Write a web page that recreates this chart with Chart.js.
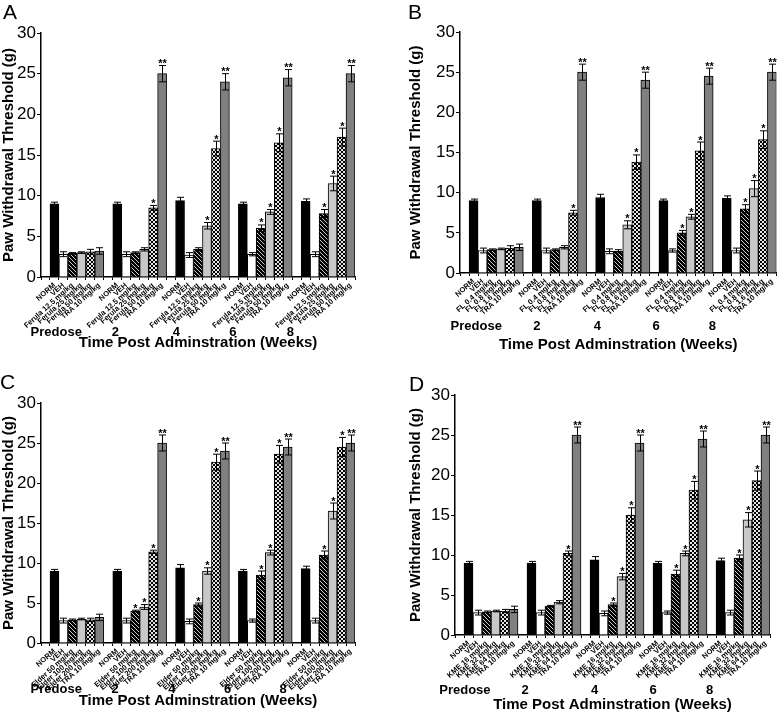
<!DOCTYPE html>
<html><head><meta charset="utf-8">
<script src="https://cdn.jsdelivr.net/npm/chart.js@4.4.0/dist/chart.umd.min.js"></script>
<style>
html,body{margin:0;padding:0;background:#fff;width:779px;height:714px;overflow:hidden;position:relative;font-family:'Liberation Sans',Arial,sans-serif}
.p{position:absolute}
.lt{position:absolute;font-size:21px;color:#000;line-height:1;font-family:'Liberation Sans',Arial,sans-serif}
</style></head><body>
<div class="p" style="left:0;top:0"><canvas id="cA" width="389" height="357"></canvas></div>
<div class="p" style="left:389px;top:0"><canvas id="cB" width="390" height="357"></canvas></div>
<div class="p" style="left:0;top:357px"><canvas id="cC" width="389" height="357"></canvas></div>
<div class="p" style="left:389px;top:357px"><canvas id="cD" width="390" height="357"></canvas></div>
<div class="lt" style="left:3px;top:1px">A</div>
<div class="lt" style="left:408px;top:1px">B</div>
<div class="lt" style="left:0px;top:371px">C</div>
<div class="lt" style="left:409px;top:373px">D</div>
<script>
// ---- data ----
const timePoints = ['Predose', '2', '4', '6', '8'];
const yTicks = [0, 5, 10, 15, 20, 25, 30];
const xTitle = 'Time Post Adminstration (Weeks)';
const yTitle = 'Paw Withdrawal Threshold (g)';

const normValues = [9.0, 9.0, 9.4, 9.0, 9.3];
const normErr    = [0.2, 0.2, 0.4, 0.2, 0.3];
const vehValues  = [2.8, 2.8, 2.7, 2.8, 2.8];
const vehErr     = [0.3, 0.3, 0.3, 0.2, 0.3];
const traValues  = [3.2, 25.0, 24.0, 24.5, 25.0];
const traErr     = [0.4, 1.0, 1.0, 1.0, 1.0];
const traSig     = ['', '**', '**', '**', '**'];

// Panel A: Ferula
const labelsA = ['NORM', 'VEH', 'Ferula 12.5 mg/kg', 'Ferula 25 mg/kg', 'Ferula 50 mg/kg', 'TRA 10 mg/kg'];
const ferulaLow  = [2.9, 3.0, 3.4, 6.0, 7.8];
const ferulaLowErr = [0.1, 0.1, 0.2, 0.4, 0.5];
const ferulaLowSig = ['', '', '', '*', '*'];
const ferulaMid  = [3.0, 3.4, 6.3, 8.0, 11.5];
const ferulaMidErr = [0.1, 0.2, 0.4, 0.3, 0.9];
const ferulaMidSig = ['', '', '*', '*', '*'];
const ferulaHigh = [3.1, 8.5, 15.8, 16.5, 17.2];
const ferulaHighErr = [0.3, 0.3, 0.9, 1.1, 1.1];
const ferulaHighSig = ['', '*', '*', '*', '*'];

// Panel B: FL
const labelsB = ['NORM', 'VEH', 'FL 0.4 mg/kg', 'FL 0.8 mg/kg', 'FL 1.6 mg/kg', 'TRA 10 mg/kg'];
const flLow  = [2.9, 2.9, 2.7, 5.0, 8.0];
const flLowErr = [0.1, 0.1, 0.2, 0.3, 0.5];
const flLowSig = ['', '', '', '*', '*'];
const flMid  = [3.0, 3.2, 6.0, 7.0, 10.5];
const flMidErr = [0.1, 0.2, 0.5, 0.3, 1.0];
const flMidSig = ['', '', '*', '*', '*'];
const flHigh = [3.1, 7.5, 13.8, 15.2, 16.6];
const flHighErr = [0.3, 0.3, 0.9, 1.1, 1.1];
const flHighSig = ['', '*', '*', '*', '*'];

// Panel C: Elder
const labelsC = ['NORM', 'VEH', 'Elder 50 mg/kg', 'Elder 100 mg/kg', 'Elder 200 mg/kg', 'TRA 10 mg/kg'];
const elderLow  = [2.9, 4.0, 4.8, 8.5, 11.0];
const elderLowErr = [0.1, 0.1, 0.2, 0.5, 0.5];
const elderLowSig = ['', '*', '*', '*', '*'];
const elderMid  = [3.0, 4.5, 9.0, 11.3, 16.5];
const elderMidErr = [0.1, 0.3, 0.4, 0.3, 1.0];
const elderMidSig = ['', '*', '*', '*', '*'];
const elderHigh = [2.9, 11.4, 22.6, 23.6, 24.5];
const elderHighErr = [0.2, 0.2, 1.0, 1.1, 1.2];
const elderHighSig = ['', '*', '*', '*', '*'];

// Panel D: KME
const labelsD = ['NORM', 'VEH', 'KME 16 mg/kg', 'KME 32 mg/kg', 'KME 64 mg/kg', 'TRA 10 mg/kg'];
const kmeLow  = [2.9, 3.6, 3.8, 7.6, 9.6];
const kmeLowErr = [0.1, 0.1, 0.2, 0.5, 0.4];
const kmeLowSig = ['', '', '*', '*', '*'];
const kmeMid  = [3.0, 4.1, 7.3, 10.2, 14.4];
const kmeMidErr = [0.1, 0.2, 0.4, 0.3, 0.9];
const kmeMidSig = ['', '', '*', '*', '*'];
const kmeHigh = [3.0, 10.2, 15.0, 18.1, 19.3];
const kmeHighErr = [0.2, 0.3, 0.9, 1.1, 1.2];
const kmeHighSig = ['', '*', '*', '*', '*'];

// ---- styling helpers ----
const FONT = "'Liberation Sans', Arial, sans-serif";
function makePattern(kind) {
  const c = document.createElement('canvas');
  c.width = 4; c.height = 4;
  const g = c.getContext('2d');
  g.fillStyle = '#000'; g.fillRect(0, 0, 4, 4);
  g.strokeStyle = '#fff'; g.lineWidth = kind === 'cross' ? 0.9 : 0.8;
  g.beginPath();
  g.moveTo(-1, -1); g.lineTo(5, 5);
  if (kind === 'cross') { g.moveTo(5, -1); g.lineTo(-1, 5); }
  g.stroke();
  return document.createElement('canvas').getContext('2d').createPattern(c, 'repeat');
}
const fills = ['#000000', '#ffffff', makePattern('hatch'), '#c8c8c8', makePattern('cross'), '#808080'];

const errorBarPlugin = {
  id: 'errbars',
  afterDatasetsDraw(chart) {
    const ctx = chart.ctx, ys = chart.scales.y;
    ctx.save();
    chart.data.datasets.forEach((ds, di) => {
      const meta = chart.getDatasetMeta(di);
      meta.data.forEach((bar, i) => {
        const v = ds.data[i];
        if (v == null) return;
        const e = ds.errors[i];
        const yt = ys.getPixelForValue(v + e), yb = ys.getPixelForValue(v - e);
        const x = Math.round(bar.x) + 0.5;
        ctx.strokeStyle = '#000'; ctx.lineWidth = 1;
        ctx.beginPath();
        ctx.moveTo(x, yt); ctx.lineTo(x, yb);
        ctx.moveTo(x - 3.5, yt); ctx.lineTo(x + 3.5, yt);
        ctx.moveTo(x - 3.5, yb); ctx.lineTo(x + 3.5, yb);
        ctx.stroke();
        const s = ds.sigs[i];
        if (s) {
          ctx.fillStyle = '#000';
          ctx.font = 'bold 11px ' + FONT;
          ctx.textAlign = 'center'; ctx.textBaseline = 'alphabetic';
          ctx.fillText(s, x, yt + 1.5);
        }
      });
    });
    ctx.restore();
  }
};

const groupLabelPlugin = {
  id: 'grouplabels',
  afterDraw(chart, args, opts) {
    const ctx = chart.ctx, xs = chart.scales.x;
    ctx.save();
    ctx.fillStyle = '#000';
    ctx.font = 'bold 13px ' + FONT;
    ctx.textAlign = 'center'; ctx.textBaseline = 'middle';
    timePoints.forEach((t, g) => {
      ctx.fillText(t, xs.getPixelForValue(opts.slots[g]), chart.chartArea.bottom + opts.dy);
    });
    ctx.restore();
  }
};

function buildPanel(cfg) {
  const series = [normValues, vehValues, cfg.low, cfg.mid, cfg.high, traValues];
  const errs = [normErr, vehErr, cfg.lowErr, cfg.midErr, cfg.highErr, traErr];
  const noSig = ['', '', '', '', ''];
  const sigs = [noSig, noSig, cfg.lowSig, cfg.midSig, cfg.highSig, traSig];
  const nSlots = timePoints.length * 7;
  const labels = [];
  timePoints.forEach(() => { labels.push(''); cfg.names.forEach(n => labels.push(n)); });
  const datasets = series.map((vals, s) => {
    const data = new Array(nSlots).fill(null);
    const e = new Array(nSlots).fill(0);
    const sg = new Array(nSlots).fill('');
    vals.forEach((v, g) => { const k = g * 7 + 1 + s; data[k] = v; e[k] = errs[s][g]; sg[k] = sigs[s][g]; });
    return {
      label: cfg.names[s], data, errors: e, sigs: sg,
      backgroundColor: fills[s], borderColor: '#000', borderWidth: 1,
      barPercentage: 1, categoryPercentage: 1, skipNull: true, grouped: true
    };
  });
  new Chart(document.getElementById(cfg.id), {
    type: 'bar',
    data: { labels, datasets },
    plugins: [errorBarPlugin, groupLabelPlugin],
    options: {
      responsive: false, animation: false,
      layout: { padding: cfg.pad },
      plugins: { legend: { display: false }, tooltip: { enabled: false },
        grouplabels: { slots: cfg.slots, dy: cfg.groupDy } },
      scales: {
        x: {
          offset: true,
          afterFit: s => { s.height = cfg.xH; },
          grid: { display: true, drawOnChartArea: false, offset: true, color: '#000', tickLength: 3, lineWidth: 1 },
          border: { display: true, color: '#000', width: 1.5 },
          ticks: { autoSkip: false, minRotation: 42, maxRotation: 42, padding: 1, color: '#000',
            font: { family: FONT, size: 7.5, weight: 'bold' } },
          title: { display: true, text: xTitle, color: '#000', padding: { top: 0, bottom: cfg.titlePadB },
            font: { family: FONT, size: 15, weight: 'bold' } }
        },
        y: {
          min: 0, max: 30,
          afterFit: s => { s.width = cfg.yW; },
          grid: { display: true, drawOnChartArea: false, color: '#000', tickLength: 4, lineWidth: 1 },
          border: { display: true, color: '#000', width: 1.5 },
          ticks: { stepSize: 2.5, padding: 1, color: '#000', font: { family: FONT, size: 17 },
            callback: v => yTicks.includes(v) ? String(v) : '' },
          title: { display: true, text: yTitle, color: '#000', padding: 0,
            font: { family: FONT, size: 15, weight: 'bold' } }
        }
      }
    }
  });
}

buildPanel({ id: 'cA', names: labelsA, low: ferulaLow, lowErr: ferulaLowErr, lowSig: ferulaLowSig,
  mid: ferulaMid, midErr: ferulaMidErr, midSig: ferulaMidSig, high: ferulaHigh, highErr: ferulaHighErr, highSig: ferulaHighSig,
  pad: { left: 0, right: 34, top: 33, bottom: 0 }, yW: 41, xH: 80, titlePadB: 5, groupDy: 55,
  slots: [1.2, 7.8, 14.6, 20.9, 27.3] });
buildPanel({ id: 'cB', names: labelsB, low: flLow, lowErr: flLowErr, lowSig: flLowSig,
  mid: flMid, midErr: flMidErr, midSig: flMidSig, high: flHigh, highErr: flHighErr, highSig: flHighSig,
  pad: { left: 18, right: 2, top: 32, bottom: 0 }, yW: 53, xH: 84, titlePadB: 3, groupDy: 53,
  slots: [1.3, 8.0, 14.7, 21.2, 27.4] });
buildPanel({ id: 'cC', names: labelsC, low: elderLow, lowErr: elderLowErr, lowSig: elderLowSig,
  mid: elderMid, midErr: elderMidErr, midSig: elderMidSig, high: elderHigh, highErr: elderHighErr, highSig: elderHighSig,
  pad: { left: 0, right: 34, top: 46, bottom: 0 }, yW: 41, xH: 71, titlePadB: 4, groupDy: 46,
  slots: [1.2, 7.75, 14.1, 20.3, 26.5] });
buildPanel({ id: 'cD', names: labelsD, low: kmeLow, lowErr: kmeLowErr, lowSig: kmeLowSig,
  mid: kmeMid, midErr: kmeMidErr, midSig: kmeMidSig, high: kmeHigh, highErr: kmeHighErr, highSig: kmeHighSig,
  pad: { left: 18, right: 9, top: 38, bottom: 0 }, yW: 48, xH: 79, titlePadB: 0, groupDy: 55,
  slots: [0.6, 7.3, 15.0, 21.5, 27.8] });
</script>
</body></html>
